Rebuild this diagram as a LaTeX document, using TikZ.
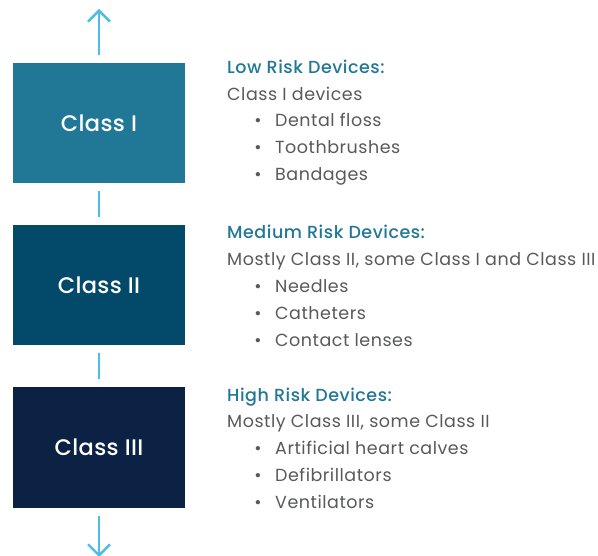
\documentclass[tikz,border=0pt]{standalone}
\usepackage{fontspec}
\setmainfont{Poppins}[LetterSpace=3]
\newfontfamily\headfont{Poppins Medium}[LetterSpace=3]
\newfontfamily\boxfont{Poppins Medium}[LetterSpace=1.5]
\usepackage{tikz}
\usetikzlibrary{arrows.meta,positioning}

\definecolor{lowblue}{HTML}{217796}
\definecolor{midblue}{HTML}{03496A}
\definecolor{highblue}{HTML}{0B2245}
\definecolor{linkblue}{HTML}{4DBCE9}
\definecolor{bodygray}{HTML}{58595B}

\tikzset{
    classbox/.style={minimum width=172pt, minimum height=120pt, inner sep=0pt,
        text=white, font=\boxfont\fontsize{22.5}{26}\selectfont},
    link/.style={linkblue, line width=2.4pt, shorten <=8pt, shorten >=8pt},
    tip/.style={-{Straight Barb[length=11pt, width=22pt, line width=2.4pt]}},
    heading/.style={anchor=base west, inner sep=0pt, text=lowblue,
        font=\headfont\fontsize{17.5}{20}\selectfont},
    body/.style={anchor=base west, inner sep=0pt, text=bodygray,
        font=\fontsize{17.5}{20}\selectfont},
    dot/.style={anchor=base, inner sep=0pt, text=bodygray,
        font=\fontsize{17.5}{20}\selectfont}
}

\begin{document}
\begin{tikzpicture}[x=1pt, y=-1pt]
    \useasboundingbox (0,0) rectangle (598,556);

    % Three class boxes
    \node[classbox, fill=lowblue] (cls1) at (99,123) {Class I};
    \node[classbox, fill=midblue] (cls2) at (99,285) {Class II};
    \node[classbox, fill=highblue] (cls3) at (99,447.5) {Class III};

    % Connectors
    \coordinate (up) at (99,9);
    \coordinate (down) at (99,557);
    \draw[link, tip, shorten >=0pt] (cls1.north) -- (up);
    \draw[link] (cls1) -- (cls2);
    \draw[link] (cls2) -- (cls3);
    \draw[link, tip, shorten >=0pt] (cls3.south) -- (down);

    % Low risk
    \node[heading] (h1) at (227,74) {Low Risk Devices:};
    \node[body] (s1) at (227,101) {Class I devices};
    \node[dot] (d11) at (258,127) {•};
    \node[body] (b11) at (275,127) {Dental floss};
    \node[dot] (d12) at (258,154) {•};
    \node[body] (b12) at (275,154) {Toothbrushes};
    \node[dot] (d13) at (258,181) {•};
    \node[body] (b13) at (275,181) {Bandages};

    % Medium risk
    \node[heading] (h2) at (227,239) {Medium Risk Devices:};
    \node[body] (s2) at (227,266) {Mostly Class II, some Class I and Class III};
    \node[dot] (d21) at (258,293) {•};
    \node[body] (b21) at (275,293) {Needles};
    \node[dot] (d22) at (258,320) {•};
    \node[body] (b22) at (275,320) {Catheters};
    \node[dot] (d23) at (258,347) {•};
    \node[body] (b23) at (275,347) {Contact lenses};

    % High risk
    \node[heading] (h3) at (227,402) {High Risk Devices:};
    \node[body] (s3) at (227,428) {Mostly Class III, some Class II};
    \node[dot] (d31) at (258,455) {•};
    \node[body] (b31) at (275,455) {Artificial heart calves};
    \node[dot] (d32) at (258,482) {•};
    \node[body] (b32) at (275,482) {Defibrillators};
    \node[dot] (d33) at (258,508) {•};
    \node[body] (b33) at (275,508) {Ventilators};
\end{tikzpicture}
\end{document}
